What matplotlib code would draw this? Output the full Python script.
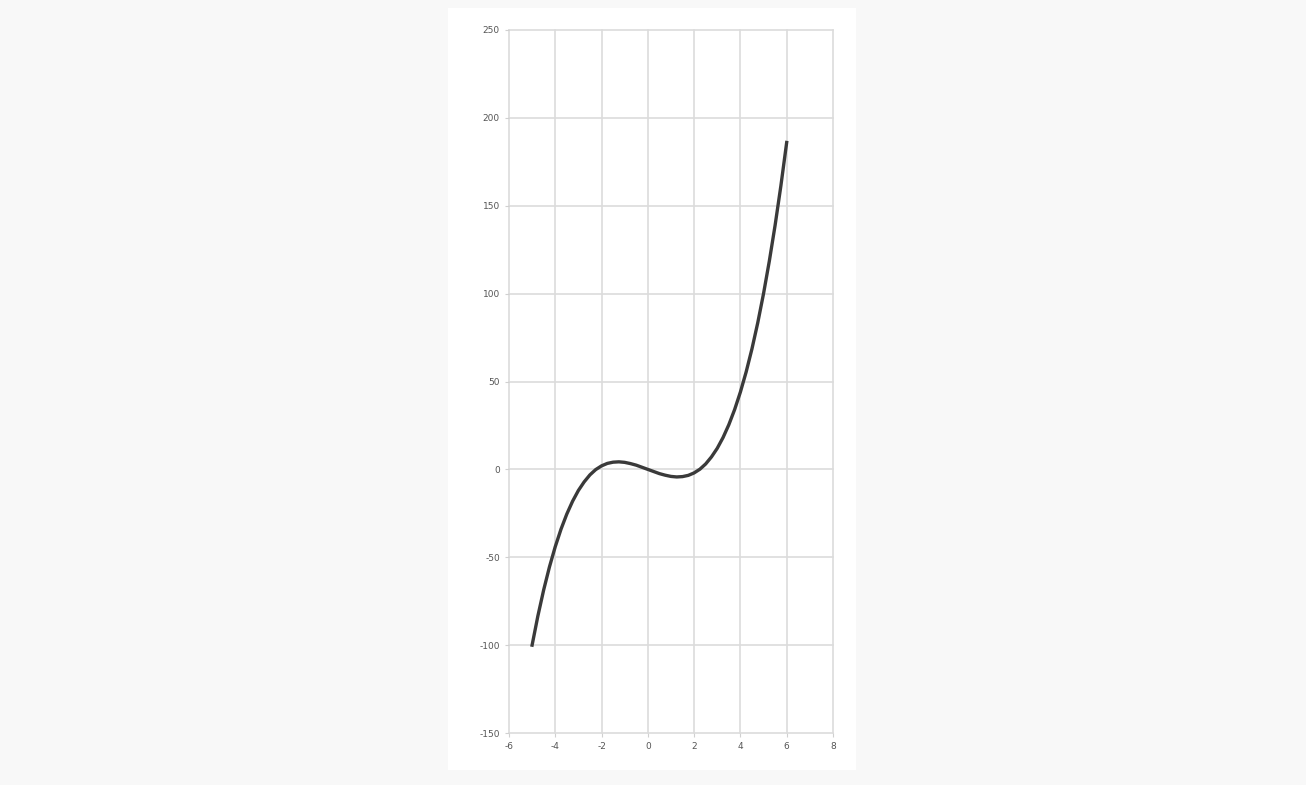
#!/usr/bin/env python3
"""Cubic curve on a light grid"""
import matplotlib
matplotlib.use("Agg")
import matplotlib.pyplot as plt
from matplotlib.patches import Rectangle

plt.rcParams["axes.unicode_minus"] = False

# values
x_vals = [-5, -4.75, -4.5, -4.25, -4, -3.75, -3.5, -3.25, -3, -2.75, -2.5,
          -2.25, -2, -1.75, -1.5, -1.25, -1, -0.75, -0.5, -0.25, 0,
          0.25, 0.5, 0.75, 1, 1.25, 1.5, 1.75, 2, 2.25, 2.5, 2.75, 3,
          3.25, 3.5, 3.75, 4, 4.25, 4.5, 4.75, 5, 5.25, 5.5, 5.75, 6]
y_vals = [-100, -83.4, -68.6, -55.5, -44, -34.0, -25.4, -18.1, -12, -7.1,
          -3.1, -0.1, 2, 3.4, 4.1, 4.3, 4, 3.3, 2.4, 1.2, 0,
          -1.2, -2.4, -3.3, -4, -4.3, -4.1, -3.4, -2, 0.1, 3.1, 7.1, 12,
          18.1, 25.4, 34.0, 44, 55.5, 68.6, 83.4, 100, 118.5, 138.9,
          161.4, 186]
x_ticks = [-6, -4, -2, 0, 2, 4, 6, 8]
y_ticks = [-150, -100, -50, 0, 50, 100, 150, 200, 250]

fig = plt.figure(figsize=(13.06, 7.85), dpi=100, facecolor="#f8f8f8")
fig.patches.append(Rectangle((0.343, 0.019), 0.3124, 0.9707,
                             transform=fig.transFigure, facecolor="white",
                             edgecolor="none", zorder=-5))

ax = fig.add_axes([0.3897, 0.0662, 0.2481, 0.8956])
ax.set_zorder(1)
ax.set_facecolor("white")
ax.plot(x_vals, y_vals, color="#3a3a3a", linewidth=2.4, zorder=3)

ax.set_xlim(-6, 8)
ax.set_ylim(-150, 250)
ax.set_xticks(x_ticks)
ax.set_yticks(y_ticks)
ax.grid(True, color="#dcdcdc", linewidth=1.2)
ax.set_axisbelow(True)
for gl in ax.get_xgridlines() + ax.get_ygridlines():
    gl.set_clip_on(False)
for s in ax.spines.values():
    s.set_visible(False)
ax.tick_params(axis="both", labelsize=6.5, labelcolor="#555555",
               color="#d0d0d0", length=3, width=0.8)

fig.savefig("out.png", dpi=100, facecolor=fig.get_facecolor())
